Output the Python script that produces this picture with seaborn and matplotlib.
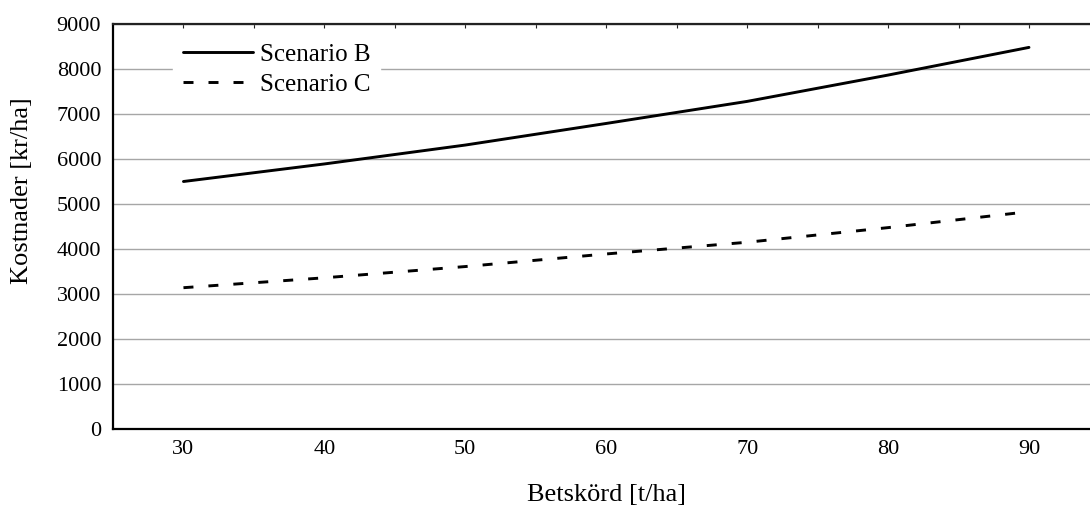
import matplotlib
matplotlib.use("Agg")
import matplotlib.pyplot as plt
import seaborn as sns
import pandas as pd
import numpy as np

# Data
betskord = [30, 40, 50, 60, 70, 80, 90]
scenario_b = [5500, 5890, 6310, 6790, 7280, 7865, 8480]
scenario_c = [3140, 3360, 3610, 3890, 4150, 4475, 4830]
series_names = ["Scenario B", "Scenario C"]
x_ticks = [30, 40, 50, 60, 70, 80, 90]
y_ticks = [0, 1000, 2000, 3000, 4000, 5000, 6000, 7000, 8000, 9000]

df = pd.DataFrame({
    "Betskörd": betskord * 2,
    "Kostnad": scenario_b + scenario_c,
    "Scenario": [series_names[0]] * len(betskord) + [series_names[1]] * len(betskord),
})

sns.set_theme(style="white")
plt.rcParams["font.family"] = ["Liberation Serif", "DejaVu Serif"]
plt.rcParams["lines.scale_dashes"] = False

fig = plt.figure(figsize=(10.9, 5.08), dpi=100)
ax = fig.add_axes([113 / 1090, 1 - 429 / 508, 1 - 113 / 1090, (429 - 24) / 508])

sns.lineplot(
    data=df, x="Betskörd", y="Kostnad", style="Scenario",
    dashes={"Scenario B": "", "Scenario C": (7.2, 10.8)},
    color="black", linewidth=2.1, ax=ax, legend=True,
)

ax.set_xlim(25, 94.33)
ax.set_ylim(0, 9000)
ax.set_xticks(x_ticks)
ax.set_yticks(y_ticks)
ax.tick_params(axis="both", labelsize=16, colors="black", length=0)
ax.tick_params(axis="x", pad=8)
ax.tick_params(axis="y", pad=8.5)
ax.yaxis.grid(True, color="#a6a6a6", linewidth=1.0)
ax.xaxis.grid(False)

for side in ["left", "bottom", "top"]:
    ax.spines[side].set_color("black")
    ax.spines[side].set_linewidth(1.6)
ax.spines["top"].set_color("#222222")
ax.spines["right"].set_visible(False)

# small inward ticks on the top border every 5 units
ax_top = ax.secondary_xaxis("top")
ax_top.set_xticks(list(range(30, 95, 5)))
ax_top.tick_params(direction="in", length=3, width=0.8, colors="#222222", labeltop=False)
ax_top.spines["top"].set_visible(False)

ax.set_xlabel("Betskörd [t/ha]", fontsize=19, color="black")
ax.set_ylabel("Kostnader [kr/ha]", fontsize=19, color="black")
ax.xaxis.set_label_coords(0.505, -0.136)
ax.yaxis.set_label_coords(-0.082, 0.588)

handles, labels = ax.get_legend_handles_labels()
leg = ax.legend(
    handles, labels, loc="upper left", bbox_to_anchor=(0.061, 0.976),
    frameon=True, fancybox=False, edgecolor="white", facecolor="white", framealpha=1,
    fontsize=18, handlelength=2.8, handletextpad=0.28, labelspacing=0.28,
    borderpad=0.4, borderaxespad=0, labelcolor="black",
)
for line in leg.get_lines():
    line.set_linewidth(2.1)

fig.savefig("out.png", dpi=100)
